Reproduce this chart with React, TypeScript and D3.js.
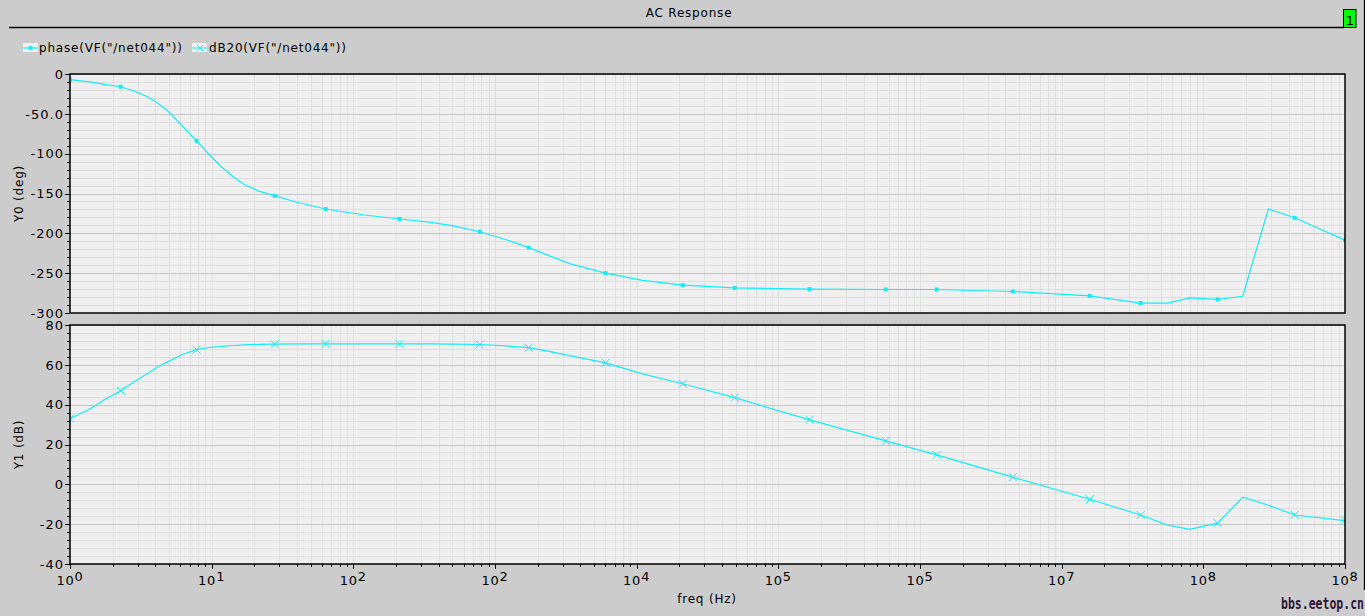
import React from 'react';
import * as d3 from 'd3';

// shared sweep frequencies (Hz)
const freqs = [
  1, 1.38, 1.75, 2.28, 2.8, 3.53, 4.2, 5.06, 6.2, 7.83, 9.6, 11.8, 14.2, 17.1, 21.5, 27.9, 40, 63.8,
  120, 212, 346, 520, 780, 1200, 1730, 2400, 3365, 6040, 11000,
  21130, 49200, 166300, 572800, 1.312e6, 4.519e6, 1.578e7, 3.614e7, 5.61e7, 8.02e7,
  1.262e8, 1.897e8, 2.877e8, 4.416e8, 1e9,
];
const phaseDeg = [
  -7, -10, -13, -16, -21, -28.5, -37, -48.6, -65, -84, -101, -117, -129, -139, -147, -153, -161, -169.5,
  -177, -182, -186, -191, -198, -208, -218, -228, -238, -250, -259,
  -265, -268.5, -270, -270.5, -270.5, -273, -278.5, -287.5, -287.5, -281,
  -283, -279, -169.5, -180.5, -208.5,
];
const gainDb = [
  33, 37.8, 42.5, 47, 51.3, 55.7, 59.2, 62, 65.2, 67.6, 68.7, 69.3, 69.7, 70, 70.3, 70.4, 70.5, 70.5,
  70.5, 70.5, 70.5, 70.4, 70.2, 69.5, 68.6, 66.8, 64.6, 61, 55.5,
  50.5, 43.5, 32.4, 21.8, 14.8, 3.6, -7.5, -15.4, -20.5, -22.6,
  -19.5, -6.5, -10.5, -15.4, -18.2,
];
// frequencies where the viewer draws a marker
const markerFreqs = [
  1, 2.28, 7.83, 27.9, 63.8, 212, 780, 1730, 6040, 21130, 49200, 166300, 572800,
  1.312e6, 4.519e6, 1.578e7, 3.614e7, 1.262e8, 4.416e8, 1e9,
];

// x tick exponents as printed by the viewer
const xTickExp = ['0', '1', '2', '2', '4', '5', '5', '7', '8', '8'];
const phaseTicks = [0, -50, -100, -150, -200, -250, -300];
const phaseTickLabels = ['0', '-50.0', '-100', '-150', '-200', '-250', '-300'];
const dbTicks = [80, 60, 40, 20, 0, -20, -40];

const W = 1365;
const H = 616;
const L = 70;
const R = 1345;
const T1 = 74;
const B1 = 313;
const T2 = 325;
const B2 = 564;
const CYAN = '#14ecf4';
const FONT = 'DejaVu Sans, Verdana, sans-serif';

const x = d3.scaleLog().domain([1, 1e9]).range([L, R]);
const yPh = d3.scaleLinear().domain([-300, 0]).range([B1, T1]);
const yDb = d3.scaleLinear().domain([-40, 80]).range([B2, T2]);

const minorX: number[] = [];
for (let e = 0; e < 9; e++) for (let m = 1; m < 10; m++) minorX.push(m * Math.pow(10, e));
minorX.push(1e9);

const markerIdx = markerFreqs.map((f) => freqs.indexOf(f)).filter((k) => k >= 0);

const Panel: React.FC<{
  y: d3.ScaleLinear<number, number>;
  top: number;
  bottom: number;
  minorStep: number;
  majorStep: number;
  values: number[];
  ticks: number[];
  labels: string[];
  marker: 'dot' | 'x';
  id: string;
  title: string;
}> = ({ y, top, bottom, minorStep, majorStep, values, ticks, labels, marker, id, title }) => {
  const [d0, d1] = y.domain();
  const minorY = d3.range(d0, d1 + 0.001, minorStep);
  const line = d3
    .line<number>()
    .x((_, i) => x(freqs[i]))
    .y((v) => y(v));
  return (
    <g>
      <defs>
        <clipPath id={id}>
          <rect x={L} y={top} width={R - L} height={bottom - top} />
        </clipPath>
      </defs>
      <rect x={L} y={top} width={R - L} height={bottom - top} fill="#efefef" />
      {minorX.map((f, i) => (
        <line key={'v' + i} x1={Math.round(x(f)) + 0.5} x2={Math.round(x(f)) + 0.5} y1={top} y2={bottom} stroke="#dedede" />
      ))}
      {minorY.map((v, i) => {
        const major = Math.abs(v % majorStep) < 1e-6;
        const yy = Math.round(y(v)) + 0.5;
        return (
          <g key={'h' + i}>
            <line x1={L} x2={R} y1={yy} y2={yy} stroke={major ? '#c4c4c4' : '#dedede'} />
            <line x1={L - (major ? 5 : 3)} x2={L} y1={yy} y2={yy} stroke="#000" />
          </g>
        );
      })}
      <g clipPath={`url(#${id})`}>
        <path d={line(values) || ''} fill="none" stroke={CYAN} strokeWidth={1.2} />
        {markerIdx.map((k) => {
          const cx = x(freqs[k]);
          const cy = y(values[k]);
          return marker === 'dot' ? (
            <rect key={k} x={cx - 2} y={cy - 2} width={4} height={4} fill={CYAN} />
          ) : (
            <path key={k} d={`M${cx - 4},${cy - 4}L${cx + 4},${cy + 4}M${cx - 4},${cy + 4}L${cx + 4},${cy - 4}`} stroke={CYAN} strokeWidth={1} />
          );
        })}
      </g>
      <rect x={L} y={top} width={R - L} height={bottom - top} fill="none" stroke="#000" strokeWidth={1.5} />
      {ticks.map((t, i) => (
        <text key={'t' + i} x={L - 6} y={y(t)} dy="0.36em" textAnchor="end" fontSize={13} letterSpacing={1} fontFamily={FONT} fill="#000">
          {labels[i]}
        </text>
      ))}
      <text
        transform={`translate(19,${(top + bottom) / 2}) rotate(-90)`}
        textAnchor="middle"
        dy="0.36em"
        fontSize={12}
        letterSpacing={0.8}
        fontFamily={FONT}
        fill="#000"
      >
        {title}
      </text>
    </g>
  );
};

export default function App() {
  const decades = d3.range(0, 10);
  return (
    <div style={{ position: 'absolute', left: 0, top: 0 }}>
      <svg width={W} height={H} viewBox={`0 0 ${W} ${H}`} style={{ display: 'block' }}>
        <rect x={0} y={0} width={W} height={H} fill="#cccccc" />
        <text x={689} y={17} textAnchor="middle" fontSize={12} letterSpacing={0.8} fontFamily={FONT} fill="#000">
          AC Response
        </text>
        <line x1={9} x2={1344} y1={27.5} y2={27.5} stroke="#000" strokeWidth={1.3} />
        <line x1={1364.5} x2={1364.5} y1={0} y2={590} stroke="#000" strokeWidth={1.3} />
        <rect x={1343.5} y={9.5} width={12.5} height={18} fill="#00ff00" stroke="#000" />
        <text x={1350} y={25} textAnchor="middle" fontSize={13} fontFamily={FONT} fill="#000">
          1
        </text>

        {/* legend */}
        <rect x={23} y={43} width={15} height={9} fill="#f0f0f0" />
        <line x1={23} x2={38} y1={48} y2={48} stroke={CYAN} strokeWidth={1.2} />
        <rect x={28.5} y={46} width={4} height={4} fill={CYAN} />
        <text x={39} y={52} fontSize={12} letterSpacing={0.8} fontFamily={FONT} fill="#000">
          phase(VF("/net044"))
        </text>
        <rect x={192} y={43} width={15} height={9} fill="#f0f0f0" />
        <line x1={192} x2={207} y1={48} y2={48} stroke={CYAN} strokeWidth={1} />
        <path d="M197,45L203,51M197,51L203,45" stroke={CYAN} strokeWidth={1} />
        <text x={209} y={52} fontSize={12} letterSpacing={0.8} fontFamily={FONT} fill="#000">
          dB20(VF("/net044"))
        </text>

        <Panel
          y={yPh}
          top={T1}
          bottom={B1}
          minorStep={10}
          majorStep={50}
          values={phaseDeg}
          ticks={phaseTicks}
          labels={phaseTickLabels}
          marker="dot"
          id="clipPh"
          title="Y0 (deg)"
        />
        <Panel
          y={yDb}
          top={T2}
          bottom={B2}
          minorStep={4}
          majorStep={20}
          values={gainDb}
          ticks={dbTicks}
          labels={dbTicks.map(String)}
          marker="x"
          id="clipDb"
          title="Y1 (dB)"
        />

        {/* x axis ticks */}
        {minorX.map((f, i) => {
          const major = Math.abs(Math.log10(f) % 1) < 1e-9;
          const xx = Math.round(x(f)) + 0.5;
          return <line key={'xt' + i} x1={xx} x2={xx} y1={B2} y2={B2 + (major ? 5 : 3)} stroke="#000" />;
        })}
        {decades.map((e) => (
          <text key={'xl' + e} x={x(Math.pow(10, e))} y={585} textAnchor="middle" fontSize={13} letterSpacing={0.8} fontFamily={FONT} fill="#000">
            <tspan>10</tspan>
            <tspan dy={-4}>{xTickExp[e]}</tspan>
          </text>
        ))}
        <text x={707} y={603} textAnchor="middle" fontSize={12} letterSpacing={0.8} fontFamily={FONT} fill="#000">
          freq (Hz)
        </text>
        <text
          x={1364}
          y={609}
          textAnchor="end"
          fontSize={15}
          fontWeight="bold"
          fontFamily="DejaVu Sans Mono, monospace"
          textLength={83}
          lengthAdjust="spacingAndGlyphs"
          fill="#2d1537"
        >
          bbs.eetop.cn
        </text>
      </svg>
    </div>
  );
}
